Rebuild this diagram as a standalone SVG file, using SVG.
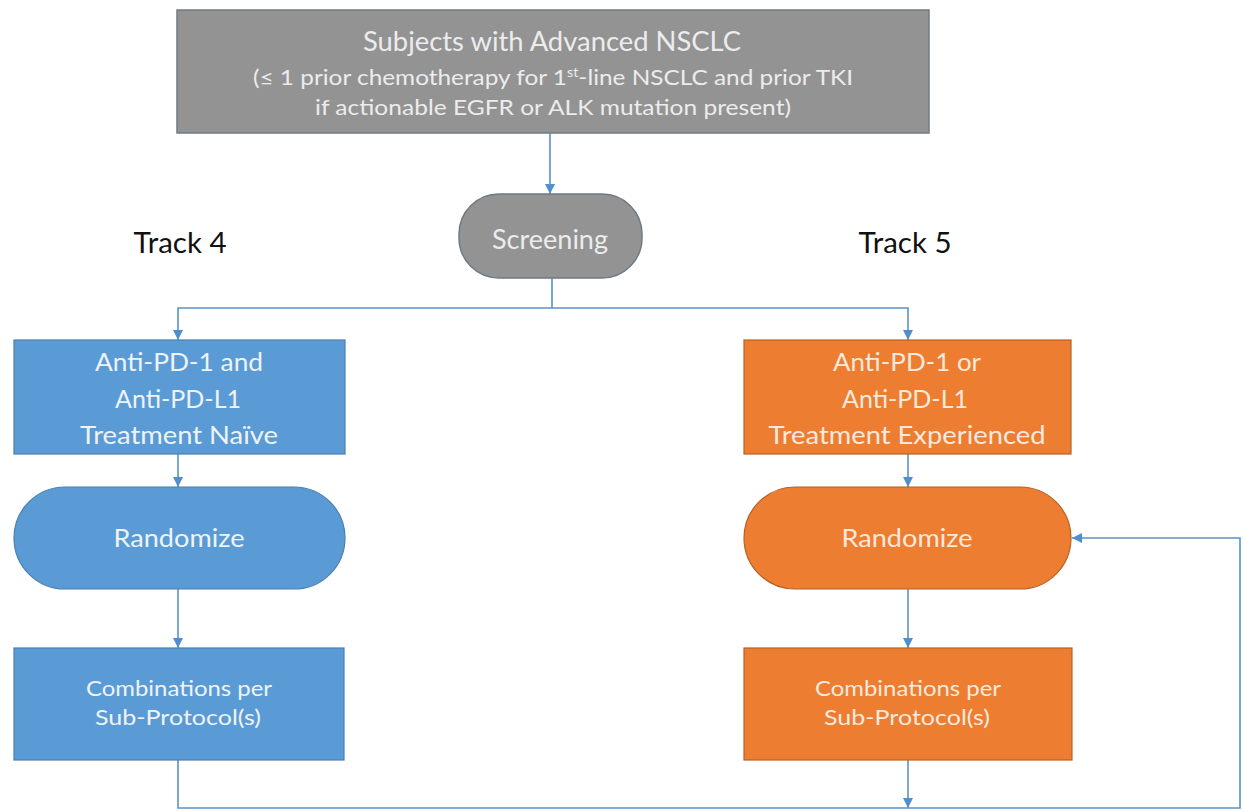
<svg xmlns="http://www.w3.org/2000/svg" width="1243" height="811" viewBox="0 0 1243 811">
  <style>
    .lbl { font-family: Lato, "Open Sans", "Liberation Sans", sans-serif; text-anchor: middle; }
    .grey { fill: #939393; stroke: #6f7a84; stroke-width: 1.5; }
    .blue { fill: #5b9bd5; stroke: #4a7fb0; stroke-width: 1.2; }
    .orange { fill: #ed7d31; stroke: #b86025; stroke-width: 1.2; }
    .wt { fill: #ececec; }
    .wb { fill: #eef3f9; }
    .wo { fill: #fbe9dd; }
    .trk { fill: #111111; font-size: 28px; }
    .link { fill: none; stroke: #5b93c8; stroke-width: 1.6; }
  </style>
  <defs>
    <marker id="arrow" viewBox="0 0 10 10" refX="10" refY="5" markerWidth="10" markerHeight="10" markerUnits="userSpaceOnUse" orient="auto">
      <path d="M0,0 L10,5 L0,10 z" fill="#4f8fcf"/>
    </marker>
  </defs>
  <rect width="1243" height="811" fill="#ffffff"/>

  <!-- connectors -->
  <g id="connectors">
    <path class="link" d="M550,133 V194" marker-end="url(#arrow)"/>
    <path class="link" d="M552,278 V308 H178 V340" marker-end="url(#arrow)"/>
    <path class="link" d="M552,308 H908 V340" marker-end="url(#arrow)"/>
    <path class="link" d="M178,454 V487" marker-end="url(#arrow)"/>
    <path class="link" d="M908,454 V487" marker-end="url(#arrow)"/>
    <path class="link" d="M178,589 V648" marker-end="url(#arrow)"/>
    <path class="link" d="M908,589 V648" marker-end="url(#arrow)"/>
    <path class="link" d="M178,760 V808 H1240 V538 H1072" marker-end="url(#arrow)"/>
    <path class="link" d="M908,760 V808" marker-end="url(#arrow)"/>
  </g>

  <!-- eligible population -->
  <g id="subjects">
    <rect class="grey" x="177" y="10" width="752" height="123"/>
    <text class="lbl wt" x="552" y="51" font-size="26" textLength="378" lengthAdjust="spacingAndGlyphs">Subjects with Advanced NSCLC</text>
    <text class="lbl wt" x="553" y="85" font-size="22" textLength="600" lengthAdjust="spacingAndGlyphs">(≤ 1 prior chemotherapy for 1<tspan font-size="13" dy="-8">st</tspan><tspan dy="8">-line NSCLC and prior TKI</tspan></text>
    <text class="lbl wt" x="553" y="115" font-size="22" textLength="476" lengthAdjust="spacingAndGlyphs">if actionable EGFR or ALK mutation present)</text>
  </g>

  <g id="screening">
    <rect class="grey" x="459" y="194" width="183" height="84" rx="40" ry="40"/>
    <text class="lbl wt" x="550" y="249" font-size="26" textLength="116" lengthAdjust="spacingAndGlyphs">Screening</text>
  </g>

  <g id="track4">
    <text class="lbl trk" x="180" y="253" textLength="93" lengthAdjust="spacingAndGlyphs">Track 4</text>
  </g>
  <g id="track5">
    <text class="lbl trk" x="905" y="253" textLength="93" lengthAdjust="spacingAndGlyphs">Track 5</text>
  </g>

  <!-- Track 4 -->
  <g id="naive">
    <rect class="blue" x="14" y="340" width="331" height="114"/>
    <text class="lbl wb" x="179" y="371" font-size="25" textLength="168" lengthAdjust="spacingAndGlyphs">Anti-PD-1 and</text>
    <text class="lbl wb" x="178" y="408" font-size="25" textLength="126" lengthAdjust="spacingAndGlyphs">Anti-PD-L1</text>
    <text class="lbl wb" x="179" y="444" font-size="25" textLength="198" lengthAdjust="spacingAndGlyphs">Treatment Naïve</text>
  </g>
  <g id="randomize4">
    <rect class="blue" x="14" y="487" width="331" height="102" rx="51" ry="51"/>
    <text class="lbl wb" x="179" y="547" font-size="25" textLength="131" lengthAdjust="spacingAndGlyphs">Randomize</text>
  </g>
  <g id="combos4">
    <rect class="blue" x="14" y="648" width="330" height="112"/>
    <text class="lbl wb" x="179" y="696" font-size="21" textLength="186" lengthAdjust="spacingAndGlyphs">Combinations per</text>
    <text class="lbl wb" x="178" y="725" font-size="21" textLength="166" lengthAdjust="spacingAndGlyphs">Sub-Protocol(s)</text>
  </g>

  <!-- Track 5 -->
  <g id="experienced">
    <rect class="orange" x="744" y="340" width="327" height="114"/>
    <text class="lbl wo" x="907" y="371" font-size="25" textLength="148" lengthAdjust="spacingAndGlyphs">Anti-PD-1 or</text>
    <text class="lbl wo" x="905" y="408" font-size="25" textLength="126" lengthAdjust="spacingAndGlyphs">Anti-PD-L1</text>
    <text class="lbl wo" x="907" y="444" font-size="25" textLength="277" lengthAdjust="spacingAndGlyphs">Treatment Experienced</text>
  </g>
  <g id="randomize5">
    <rect class="orange" x="744" y="487" width="327" height="102" rx="51" ry="51"/>
    <text class="lbl wo" x="907" y="547" font-size="25" textLength="131" lengthAdjust="spacingAndGlyphs">Randomize</text>
  </g>
  <g id="combos5">
    <rect class="orange" x="744" y="648" width="328" height="112"/>
    <text class="lbl wo" x="908" y="696" font-size="21" textLength="186" lengthAdjust="spacingAndGlyphs">Combinations per</text>
    <text class="lbl wo" x="907" y="725" font-size="21" textLength="166" lengthAdjust="spacingAndGlyphs">Sub-Protocol(s)</text>
  </g>
</svg>
